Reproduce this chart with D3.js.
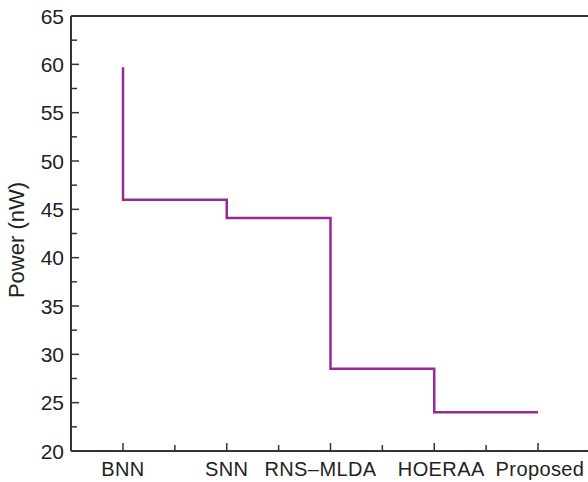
<!DOCTYPE html>
<html>
<head>
<meta charset="utf-8">
<script src="https://d3js.org/d3.v7.min.js"></script>
<style>
  body { margin: 0; background: #fff; }
  svg text { font-family: "Liberation Sans", Arial, sans-serif; fill: #222; }
</style>
</head>
<body>
<script>
// chart data
var methods = ["BNN", "SNN", "RNS\u2013MLDA", "HOERAA", "Proposed"];
var power = [59.7, 46, 44.1, 28.5, 24];
var yTicks = [20, 25, 30, 35, 40, 45, 50, 55, 60, 65];

var W = 588, H = 482;
var margin = {top: 16, right: 0, bottom: 31, left: 71};

var svg = d3.select("body").append("svg")
  .attr("width", W).attr("height", H);

var x = d3.scalePoint()
  .domain(methods)
  .range([123, 538]);

var y = d3.scaleLinear()
  .domain([20, 65])
  .range([H - margin.bottom, margin.top]);

var step = x.step();
// the original nudges two crowded labels apart
var labelShift = {"RNS\u2013MLDA": -10, "HOERAA": 7, "Proposed": 2};
var g = svg.append("g");

// frame: left + bottom + top
g.append("line")
  .attr("x1", margin.left).attr("x2", margin.left)
  .attr("y1", y(65)).attr("y2", y(20))
  .attr("stroke", "#333").attr("stroke-width", 2);
g.append("line")
  .attr("x1", margin.left).attr("x2", W)
  .attr("y1", y(20)).attr("y2", y(20))
  .attr("stroke", "#333").attr("stroke-width", 2);
g.append("line")
  .attr("x1", margin.left).attr("x2", W)
  .attr("y1", y(65)).attr("y2", y(65))
  .attr("stroke", "#333").attr("stroke-width", 2);

// y ticks (inward), major + minor
yTicks.forEach(function(v) {
  if (v > 20 && v < 65) {
    g.append("line")
      .attr("x1", margin.left).attr("x2", margin.left + 8)
      .attr("y1", y(v)).attr("y2", y(v))
      .attr("stroke", "#333").attr("stroke-width", 1.5);
  }
  g.append("text")
    .attr("x", margin.left - 7).attr("y", y(v))
    .attr("dy", "0.36em")
    .attr("text-anchor", "end")
    .style("font-size", "21px")
    .text(v);
  if (v < 65) {
    g.append("line")
      .attr("x1", margin.left).attr("x2", margin.left + 6)
      .attr("y1", y(v + 2.5)).attr("y2", y(v + 2.5))
      .attr("stroke", "#333").attr("stroke-width", 1.5);
  }
});

// x ticks (inward), major at categories, minor between
methods.forEach(function(m, i) {
  var px = x(m);
  g.append("line")
    .attr("x1", px).attr("x2", px)
    .attr("y1", y(20)).attr("y2", y(20) - 8)
    .attr("stroke", "#333").attr("stroke-width", 1.5);
  g.append("text")
    .attr("x", px + (labelShift[m] || 0)).attr("y", y(20) + 25)
    .attr("text-anchor", "middle")
    .style("font-size", "20px")
    .style("letter-spacing", "0.4px")
    .text(m);
  if (i < methods.length - 1) {
    g.append("line")
      .attr("x1", px + step / 2).attr("x2", px + step / 2)
      .attr("y1", y(20)).attr("y2", y(20) - 6)
      .attr("stroke", "#333").attr("stroke-width", 1.5);
  }
});

// y axis title
svg.append("text")
  .attr("transform", "translate(24," + 240 + ") rotate(-90)")
  .attr("text-anchor", "middle")
  .style("font-size", "22px")
  .text("Power (nW)");

// step line
var line = d3.line()
  .x(function(d, i) { return x(methods[i]); })
  .y(function(d) { return y(d); })
  .curve(d3.curveStepBefore);

svg.append("path")
  .datum(power)
  .attr("d", line)
  .attr("fill", "none")
  .attr("stroke", "#962a96")
  .attr("stroke-width", 2.5);
</script>
</body>
</html>
